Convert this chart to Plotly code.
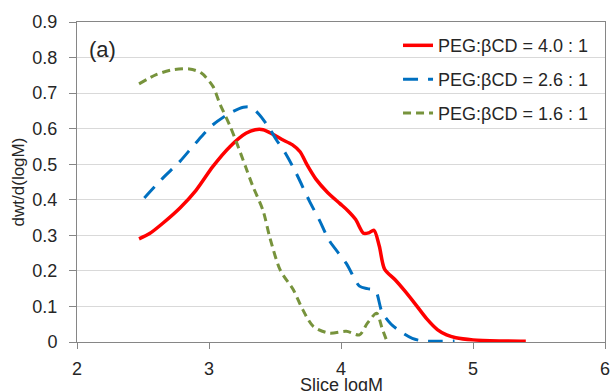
import plotly.graph_objects as go

# Data
red_x = [2.47, 2.55, 2.65, 2.78, 2.9, 3.03, 3.16, 3.28, 3.35, 3.41, 3.48, 3.55, 3.63, 3.69, 3.74,
         3.81, 3.9, 3.99, 4.05, 4.11, 4.17, 4.21, 4.25, 4.29, 4.33, 4.41, 4.48, 4.56, 4.65, 4.73,
         4.8, 4.87, 5.0, 5.2, 5.4]
red_y = [0.29, 0.305, 0.334, 0.377, 0.426, 0.494, 0.55, 0.587, 0.597, 0.597, 0.585, 0.57, 0.555,
         0.535, 0.50, 0.458, 0.42, 0.39, 0.37, 0.345, 0.306, 0.307, 0.314, 0.27, 0.205, 0.175,
         0.145, 0.108, 0.065, 0.035, 0.02, 0.012, 0.006, 0.003, 0.002]

blue_x = [2.51, 2.65, 2.78, 2.9, 3.03, 3.16, 3.26, 3.32, 3.38, 3.45, 3.51, 3.58, 3.66, 3.76,
          3.84, 3.91, 4.04, 4.14, 4.2, 4.26, 4.31, 4.38, 4.46, 4.54, 4.62, 4.75, 4.86]
blue_y = [0.405, 0.461, 0.508, 0.56, 0.611, 0.644, 0.66, 0.66, 0.64, 0.605, 0.569, 0.53, 0.475,
          0.397, 0.34, 0.286, 0.221, 0.157, 0.15, 0.145, 0.085, 0.05, 0.027, 0.01, 0.003, 0.002,
          0.003]

green_x = [2.47, 2.6, 2.73, 2.85, 2.94, 3.03, 3.08, 3.16, 3.21, 3.28, 3.33, 3.41, 3.46, 3.54,
           3.64, 3.71, 3.79, 3.91, 4.04, 4.14, 4.2, 4.27, 4.31, 4.35]
green_y = [0.726, 0.752, 0.766, 0.768, 0.757, 0.719, 0.672, 0.607, 0.56, 0.49, 0.44, 0.369,
           0.295, 0.202, 0.146, 0.091, 0.044, 0.025, 0.030, 0.020, 0.053, 0.081, 0.04, 0.0]

series_names = ["PEG:βCD = 4.0 : 1", "PEG:βCD = 2.6 : 1", "PEG:βCD = 1.6 : 1"]
x_ticks = [2, 3, 4, 5, 6]
y_ticks = [0, 0.1, 0.2, 0.3, 0.4, 0.5, 0.6, 0.7, 0.8, 0.9]
y_tick_text = ["0", "0.1", "0.2", "0.3", "0.4", "0.5", "0.6", "0.7", "0.8", "0.9"]
x_title = "Slice logM"
y_title = "dwt/d(logM)"

FONT = "Liberation Sans, Arial, sans-serif"
TXT = "#262626"

fig = go.Figure()
fig.add_trace(go.Scatter(x=red_x, y=red_y, mode="lines", name=series_names[0], legendgroup="a",
                         line=dict(color="#FF0000", width=3.5, shape="spline", smoothing=0.8)))
fig.add_trace(go.Scatter(x=blue_x, y=blue_y, mode="lines", name=series_names[1], legendgroup="b",
                         line=dict(color="#0070C0", width=3, dash="15px,10px", shape="spline",
                                   smoothing=0.8)))
fig.add_trace(go.Scatter(x=green_x, y=green_y, mode="lines", name=series_names[2], legendgroup="c",
                         line=dict(color="#77933C", width=3, dash="8px,5px", shape="spline",
                                   smoothing=0.8)))

fig.add_annotation(text="(a)", xref="paper", yref="paper", x=0.048, y=0.915,
                   xanchor="center", yanchor="middle", showarrow=False,
                   font=dict(family=FONT, size=22, color=TXT))
# x-axis title placed as an annotation (partly cut by the bottom edge, as in the reference)
fig.add_annotation(text=x_title, xref="paper", yref="paper", x=0.5, y=-0.133,
                   xanchor="center", yanchor="middle", showarrow=False,
                   font=dict(family=FONT, size=18, color=TXT))

fig.update_layout(
    width=610, height=391,
    margin=dict(l=77, r=5, t=22, b=49, autoexpand=False),
    paper_bgcolor="white", plot_bgcolor="white",
    font=dict(family=FONT, size=18, color=TXT),
    showlegend=True,
    legend=dict(x=0.608, xanchor="left", y=0.984, yanchor="top",
                bgcolor="rgba(0,0,0,0)", tracegroupgap=7.5,
                font=dict(family=FONT, size=18, color=TXT)),
    xaxis=dict(range=[2, 6], tickvals=x_ticks, ticks="outside", ticklen=6, tickcolor="#868686",
               showline=True, linecolor="#868686", linewidth=1, mirror=True,
               showgrid=False, zeroline=False, ticklabelstandoff=4, automargin=False,
               ticklabeloverflow="allow",
               tickfont=dict(family=FONT, size=18, color=TXT)),
    yaxis=dict(range=[0, 0.9], tickvals=y_ticks, ticktext=y_tick_text, ticks="outside", ticklen=7,
               tickcolor="#868686", showline=True, linecolor="#868686", linewidth=1, mirror=True,
               showgrid=True, gridcolor="#D9D9D9", gridwidth=1, zeroline=False,
               ticklabelstandoff=8, automargin=False,
               tickfont=dict(family=FONT, size=18, color=TXT),
               title=dict(text=y_title, font=dict(family=FONT, size=17, color=TXT),
                          standoff=3)),
)

fig.write_html("out.html", post_script="document.body.style.margin='0';",
               config={"displayModeBar": False})
